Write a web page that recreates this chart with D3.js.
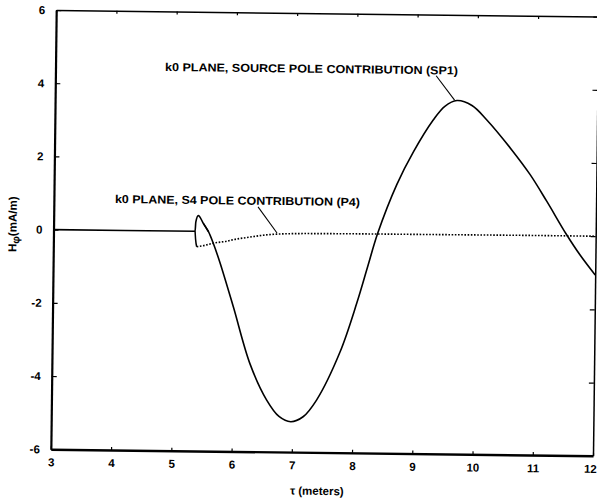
<!DOCTYPE html>
<html>
<head>
<meta charset="utf-8">
<script src="https://cdn.jsdelivr.net/npm/d3@7"></script>
<style>
  html, body { margin: 0; padding: 0; background: #fff; }
  svg { display: block; }
  text { font-family: "Liberation Sans", Arial, Helvetica, sans-serif; font-weight: bold; fill: #000; }
</style>
</head>
<body>
<svg id="chart" width="597" height="503"></svg>
<script>
// Source pole contribution (SP1), time axis tau in meters
const sp1T = [3, 5.35, 5.36, 5.40, 5.485, 5.57, 5.654, 5.77, 6.0, 6.29, 6.57, 6.78, 6.976, 7.18, 7.40, 7.78, 8.05, 8.22, 8.38, 8.69, 8.96, 9.28, 9.47, 9.67, 9.92, 10.17, 10.59, 10.90, 11.18, 11.51, 11.745, 12.0];
const sp1V = [0, 0, 0.25, 0.43, 0.22, 0.0, -0.32, -0.85, -2.05, -3.61, -4.58, -5.03, -5.17, -5.03, -4.57, -3.25, -1.90, -0.92, 0.0, 1.35, 2.25, 3.12, 3.50, 3.66, 3.53, 3.14, 2.33, 1.66, 0.94, 0.05, -0.52, -1.06];

// S4 pole contribution (P4): short solid drop at onset, then dotted tail
const p4StepT = [5.35, 5.36, 5.38];
const p4StepV = [0, -0.22, -0.42];
const p4T = [5.38, 5.485, 5.654, 5.90, 6.0, 6.26, 6.5, 6.7, 7.0, 7.5, 8.0, 9.0, 10.0, 11.0, 12.0];
const p4V = [-0.42, -0.39, -0.32, -0.25, -0.21, -0.14, -0.08, -0.05, -0.03, -0.02, -0.015, -0.01, -0.005, 0, 0];

const xTicks = [3, 4, 5, 6, 7, 8, 9, 10, 11, 12];
const yTicks = [-6, -4, -2, 0, 2, 4, 6];

// Annotation text and leader anchors (data coordinates)
const labelSP1 = "k0 PLANE, SOURCE POLE CONTRIBUTION (SP1)";
const labelP4 = "k0 PLANE, S4 POLE CONTRIBUTION (P4)";
const leaderSP1 = [[9.32, 4.33], [9.63, 3.67]];
const leaderP4 = [[6.39, 0.69], [6.71, -0.02]];

const W = 597, H = 503;
const plotL = 53.5, plotR = 595.7, plotT = 13.3, plotB = 452.5;

const svg = d3.select("#chart");
svg.append("rect").attr("width", W).attr("height", H).attr("fill", "#fff");

// whole plate sits slightly tilted
const g = svg.append("g").attr("transform", "rotate(0.7, 324.5, 233)");

const x = d3.scaleLinear().domain([3, 12]).range([plotL, plotR]);
const y = d3.scaleLinear().domain([-6, 6]).range([plotB, plotT]);

const zip = (a, b) => a.map((t, i) => [t, b[i]]);
const lineMono = d3.line().x(d => x(d[0])).y(d => y(d[1])).curve(d3.curveMonotoneX);
const lineSmooth = d3.line().x(d => x(d[0])).y(d => y(d[1])).curve(d3.curveCatmullRom.alpha(0.5));

// axes with inward ticks
const axB = d3.axisBottom(x).tickValues(xTicks).tickSize(-3).tickSizeOuter(0).tickPadding(9).tickFormat(d3.format("d"));
const axT = d3.axisTop(x).tickValues(xTicks).tickSize(-3).tickSizeOuter(0).tickFormat("");
const axL = d3.axisLeft(y).tickValues(yTicks).tickSize(-5).tickSizeOuter(0).tickPadding(11).tickFormat(d => d < 0 ? "-" + Math.abs(d) : d);
const axR = d3.axisRight(y).tickValues(yTicks).tickSize(-5).tickSizeOuter(0).tickFormat("");

function styleAxis(sel, w) {
  sel.select(".domain").attr("stroke", "#000").attr("stroke-width", w);
  sel.selectAll(".tick line").attr("stroke", "#000").attr("stroke-width", 1.2);
  sel.selectAll(".tick text").attr("font-size", 11.5).attr("font-family", "Liberation Sans, Arial, sans-serif").attr("font-weight", "bold");
}

g.append("g").attr("transform", `translate(0,${plotT})`).call(axT).call(s => styleAxis(s, 1.5));
g.append("g").attr("transform", `translate(${plotR},0)`).call(axR).call(s => styleAxis(s, 1.5));
const gB = g.append("g").attr("transform", `translate(0,${plotB})`).call(axB).call(s => styleAxis(s, 2.4));
// keep the last tick label inside the page edge
gB.selectAll(".tick text").filter(d => d === 12).attr("dx", -3);
g.append("g").attr("transform", `translate(${plotL},0)`).call(axL).call(s => styleAxis(s, 2.2));

// SP1: flat onset and sharp branch-point bump, then the smooth oscillation
const sp1 = zip(sp1T, sp1V);
const split = sp1T.indexOf(5.57);
g.append("path").datum(sp1.slice(0, split + 1)).attr("d", lineMono)
  .attr("fill", "none").attr("stroke", "#000").attr("stroke-width", 1.6);
g.append("path").datum(sp1.slice(split - 1)).attr("d", lineSmooth)
  .attr("fill", "none").attr("stroke", "#000").attr("stroke-width", 1.6);

// P4
g.append("path").datum(zip(p4StepT, p4StepV)).attr("d", lineMono)
  .attr("fill", "none").attr("stroke", "#000").attr("stroke-width", 1.5);
g.append("path").datum(zip(p4T, p4V)).attr("d", lineMono)
  .attr("fill", "none").attr("stroke", "#000").attr("stroke-width", 1.6)
  .attr("stroke-dasharray", "1.6,1.6");

// leaders
const straight = d3.line().x(d => x(d[0])).y(d => y(d[1]));
g.append("path").datum(leaderSP1).attr("d", straight).attr("stroke", "#000").attr("stroke-width", 1.1).attr("fill", "none");
g.append("path").datum(leaderP4).attr("d", straight).attr("stroke", "#000").attr("stroke-width", 1.1).attr("fill", "none");

// annotation labels
g.append("text").attr("x", 163).attr("y", 72.9).attr("font-size", 11.5)
  .attr("textLength", 293).attr("lengthAdjust", "spacingAndGlyphs").text(labelSP1);
g.append("text").attr("x", 114.6).attr("y", 205.6).attr("font-size", 11.5)
  .attr("textLength", 245).attr("lengthAdjust", "spacingAndGlyphs").text(labelP4);

// axis titles
g.append("text").attr("x", 320).attr("y", 495).attr("text-anchor", "middle").attr("font-size", 11.5)
  .text("\u03C4 (meters)");
const yl = g.append("text").attr("transform", "translate(16.5,228) rotate(-90)")
  .attr("text-anchor", "middle").attr("font-size", 11.5);
yl.append("tspan").text("H");
yl.append("tspan").attr("dy", 3).attr("font-size", 10.5).text("\u03C6");
yl.append("tspan").attr("dy", -3).text("(mA/m)");
</script>
</body>
</html>
